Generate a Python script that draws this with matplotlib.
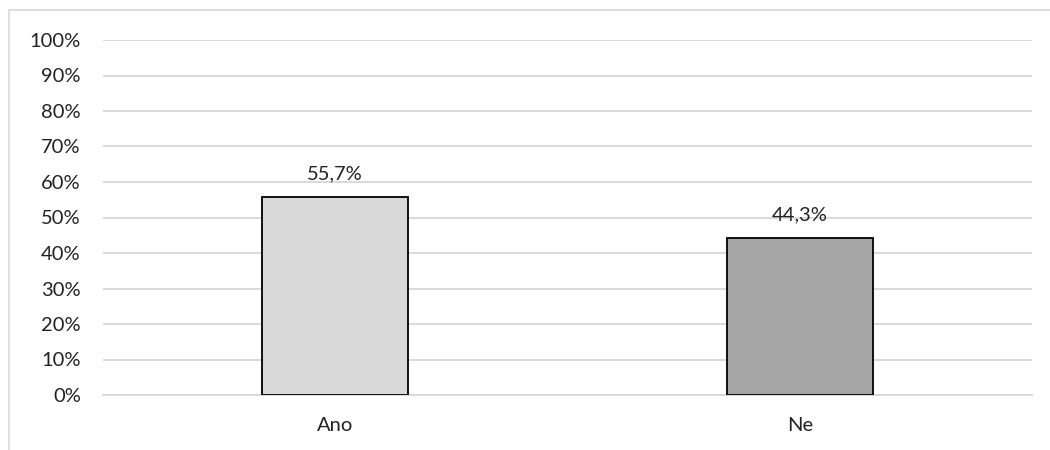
import matplotlib
matplotlib.use("Agg")
import matplotlib.pyplot as plt
from matplotlib.patches import Rectangle
from matplotlib.ticker import FuncFormatter

categories = ["Ano", "Ne"]
values = [55.7, 44.3]
bar_colors = ["#d9d9d9", "#a5a5a5"]
value_labels = ["55,7%", "44,3%"]

plt.rcParams['font.family'] = ['Lato', 'DejaVu Sans']

W, H = 1050, 450
fig = plt.figure(figsize=(W / 100, H / 100), dpi=100)
ax = fig.add_axes([103 / W, 1 - 395 / H, (1032 - 103) / W, (395 - 40) / H])

x = list(range(len(categories)))
bars = ax.bar(x, values, width=0.315, color=bar_colors, edgecolor="black", linewidth=1.3, zorder=3)
for b, lab in zip(bars, value_labels):
    ax.text(b.get_x() + b.get_width() / 2, b.get_height() + 5.0, lab,
            ha="center", va="baseline", fontsize=14.5, color="#222222")

ax.set_xlim(-0.5, len(categories) - 0.5)
ax.set_ylim(0, 100)
ax.set_yticks(range(0, 101, 10))
ax.yaxis.set_major_formatter(FuncFormatter(lambda v, p: f"{int(v)}%"))
ax.set_xticks(x)
ax.set_xticklabels(categories)
ax.grid(axis="y", color="#d9d9d9", linewidth=1.4, zorder=0)
ax.set_axisbelow(True)
for s in ["top", "right", "left"]:
    ax.spines[s].set_visible(False)
ax.spines["bottom"].set_color("#d9d9d9")
ax.spines["bottom"].set_linewidth(1.4)
ax.tick_params(axis="both", length=0, labelsize=14.5, colors="#222222")
ax.tick_params(axis="y", pad=16)
ax.tick_params(axis="x", pad=16)

fig.patches.append(Rectangle((9 / W, -0.1), 1.2, 1 - 10 / H + 0.1, transform=fig.transFigure,
                             fill=False, edgecolor="#d9d9d9", linewidth=1.2))

fig.savefig("out.png", dpi=100)
